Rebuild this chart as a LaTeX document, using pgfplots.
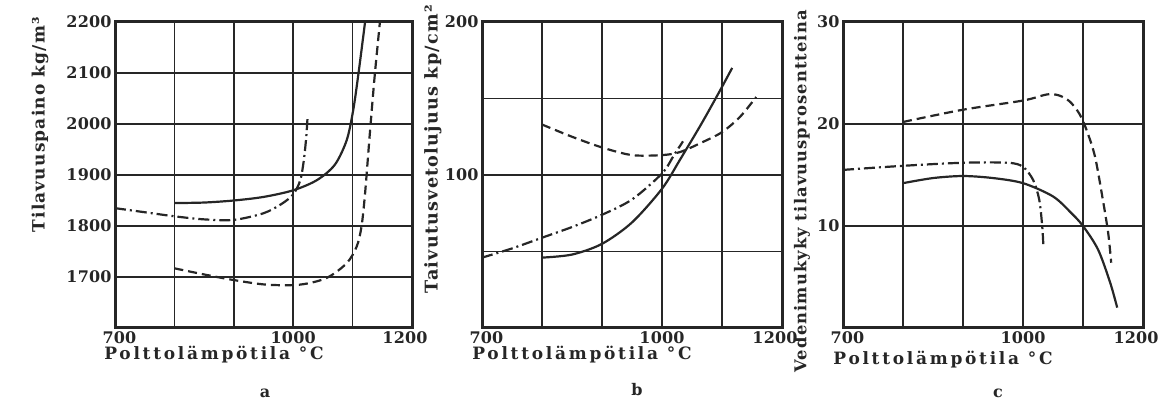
\documentclass[border=0pt]{standalone}
\usepackage{fontspec}
\setmainfont{DejaVu Serif}[LetterSpace=7]
\usepackage{pgfplots}
\pgfplotsset{compat=1.18}
\definecolor{ink}{HTML}{262626}
\newcommand{\lf}[1]{\fontsize{#1}{#1}\selectfont\bfseries}
\pgfplotsset{
 panel/.style={scale only axis, height=306pt, xmin=700, xmax=1200,
  xtick={700,800,900,1000,1100,1200},
  xticklabels={\hspace*{9pt}700,,,1000,,1200\hspace*{14pt}},
  grid=major, grid style={ink, line width=1.5pt},
  axis line style={ink, line width=3pt},
  major tick length=0pt,
  tick label style={font=\lf{16}\addfontfeatures{LetterSpace=1}, text=ink},
  /pgf/number format/assume math mode=true,
  /pgf/number format/1000 sep={},
  every axis plot/.append style={ink, line width=2.2pt, smooth, tension=0.5, no markers},
  anchor=south west,
 },
 sol/.style={solid},
 dsh/.style={dash pattern=on 9pt off 5pt},
 dd/.style={dash pattern=on 11pt off 4pt on 2pt off 4pt},
}
\begin{document}
\begin{tikzpicture}
\useasboundingbox (0,0) rectangle (1168pt,407pt);
% ---------- a ----------
\begin{axis}[panel, at={(115pt,79pt)}, width=297pt,
  ymin=1600, ymax=2200, ytick={1600,1700,...,2200},
  yticklabels={,1700,1800,1900,2000,2100,2200}]
\addplot[sol] coordinates {(800,1845)(850,1846)(900,1850)(950,1857)(1000,1870)(1040,1890)(1070,1920)(1090,1968)(1101,2027)(1110,2100)(1121,2200)};
\addplot[dd] coordinates {(700,1835)(750,1827)(800,1819)(850,1813)(900,1812)(950,1825)(980,1843)(1000,1862)(1012,1890)(1018,1930)(1022,1975)(1024,2010)};
\addplot[dsh] coordinates {(800,1717)(850,1705)(900,1694)(955,1685)(1011,1685)(1056,1698)(1090,1727)(1107,1760)(1115,1799)(1121,1864)(1129,1981)(1137,2092)(1146,2200)};
\end{axis}
% ---------- b ----------
\begin{axis}[panel, at={(482pt,79pt)}, width=300pt,
  ymin=0, ymax=200, ytick={0,50,100,150,200},
  yticklabels={,,100,,200}]
\addplot[sol] coordinates {(800,46)(850,48)(900,55)(950,69)(1000,91)(1030,110)(1065,133)(1095,154)(1117,170)};
\addplot[dd] coordinates {(700,46)(750,52)(800,59)(850,66)(900,74)(950,84)(1000,101)(1020,113)(1035,122)};
\addplot[dsh] coordinates {(800,133)(850,125)(900,118)(950,113)(1000,113)(1030,115)(1065,121)(1100,128)(1130,138)(1157,151)};
\end{axis}
% ---------- c ----------
\begin{axis}[panel, at={(843pt,79pt)}, width=300pt,
  ymin=0, ymax=30, ytick={0,10,20,30},
  yticklabels={,10,20,30}]
\addplot[sol] coordinates {(800,14.2)(850,14.7)(900,14.9)(950,14.7)(1000,14.2)(1050,12.9)(1080,11.3)(1100,10)(1125,7.7)(1145,4.5)(1157,2)};
\addplot[dd] coordinates {(700,15.5)(800,15.9)(900,16.2)(975,16.2)(1000,15.8)(1017,14.5)(1027,12.6)(1032,10)(1034,8)};
\addplot[dsh] coordinates {(800,20.2)(900,21.4)(1000,22.3)(1040,22.9)(1060,22.8)(1078,22.2)(1094,21)(1106,19.4)(1120,16.8)(1133,12.6)(1142,9.3)(1147,6.4)};
\end{axis}
% ---------- labels ----------
\begin{scope}[every node/.style={text=ink, inner sep=0pt}]
\node[rotate=90, anchor=east, font=\lf{17}] at (40pt,390pt) {Tilavuuspaino kg/m³};
\node[rotate=90, anchor=east, font=\lf{17.6}] at (433pt,402pt) {Taivutusvetolujuus kp/cm²};
\node[rotate=90, anchor=east, font=\lf{16.3}] at (802pt,397pt) {Vedenimukyky tilavuusprosentteina};
\begin{scope}[every node/.append style={font=\lf{17}\addfontfeatures{LetterSpace=16}}]
\node at (214pt,52pt) {Polttolämpötila °C};
\node at (582pt,52pt) {Polttolämpötila °C};
\node at (943pt,47pt) {Polttolämpötila °C};
\end{scope}
\node[font=\lf{16}] at (265pt,14pt) {a};
\node[font=\lf{16}] at (637pt,17pt) {b};
\node[font=\lf{16}] at (998pt,14pt) {c};
\end{scope}
\end{tikzpicture}
\end{document}
